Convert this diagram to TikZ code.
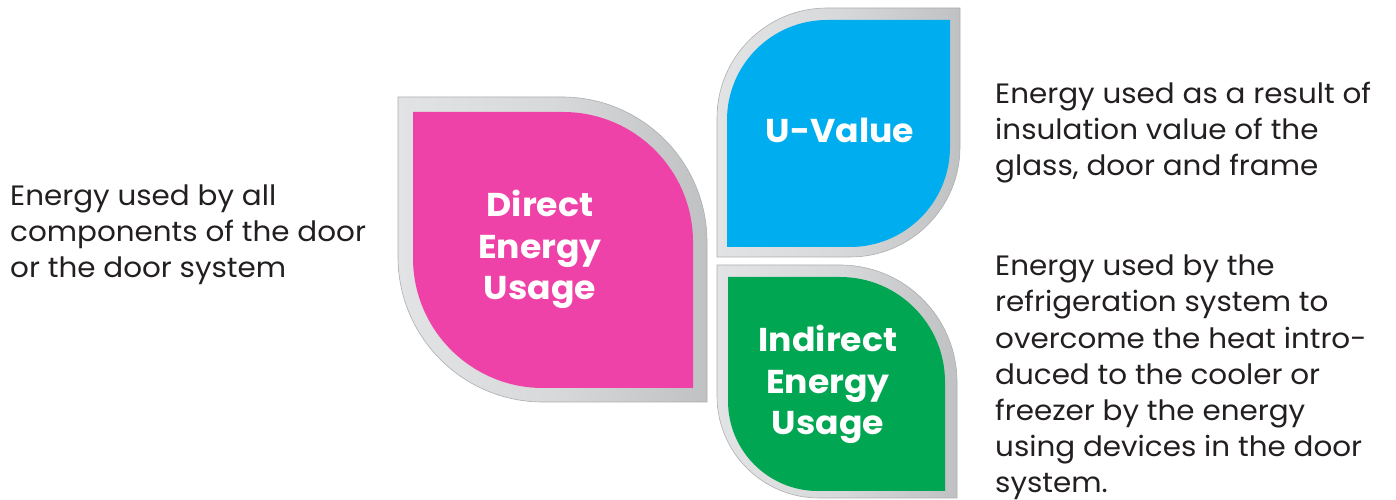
\documentclass[tikz,border=0pt]{standalone}
\usepackage{fontspec}
\setmainfont{Poppins}[FakeStretch=1.05]
\definecolor{pinkc}{RGB}{239,66,168}
\definecolor{bluec}{RGB}{0,174,239}
\definecolor{greenc}{RGB}{0,166,81}
\definecolor{txt}{RGB}{35,31,32}
\definecolor{silverA}{RGB}{226,227,228}
\definecolor{silverB}{RGB}{192,193,195}
\begin{document}
\begin{tikzpicture}[x=1pt,y=1pt,
  silver/.style={left color=silverA,right color=silverB,middle color=silverA!70!silverB,draw=silverB!90!black,line width=0.6pt},
  desc/.style={anchor=base west,align=left,inner sep=0pt,text=txt,font=\fontsize{28}{36.2}\selectfont},
  label/.style={anchor=base,align=center,inner sep=0pt,text=white,font=\bfseries\fontsize{33}{41.5}\selectfont}]
\useasboundingbox (0,0) rectangle (1396,500);
% Direct (pink): top-right and bottom-left rounded
\path[silver] (398,403) -- (707-145,403) arc[start angle=90,end angle=0,radius=145] -- (707,98) -- (398+145,98) arc[start angle=270,end angle=180,radius=145] -- cycle;
\fill[pinkc] (413,388) -- (693-130,388) arc[start angle=90,end angle=0,radius=130] -- (693,112) -- (413+130,112) arc[start angle=270,end angle=180,radius=130] -- cycle;
% U-Value (blue): top-left and bottom-right rounded
\path[silver] (717,243) -- (717,492-110) arc[start angle=180,end angle=90,radius=110] -- (960,492) -- (960,243+110) arc[start angle=0,end angle=-90,radius=110] -- cycle;
\fill[bluec] (727,253) -- (727,480-100) arc[start angle=180,end angle=90,radius=100] -- (950,480) -- (950,253+100) arc[start angle=0,end angle=-90,radius=100] -- cycle;
% Indirect (green): top-right and bottom-left rounded
\path[silver] (717,235) -- (957-117,235) arc[start angle=90,end angle=0,radius=117] -- (957,2) -- (717+102,2) arc[start angle=270,end angle=180,radius=102] -- cycle;
\fill[greenc] (728,223) -- (945-105,223) arc[start angle=90,end angle=0,radius=105] -- (945,9) -- (728+90,9) arc[start angle=270,end angle=180,radius=90] -- cycle;
% labels (anchored at the baseline of the last line)
\node[label] (direct) at (540,200) {Direct\\Energy\\Usage};
\node[label] (uvalue) at (840,357) {U-Value};
\node[label] (indirect) at (828,65) {Indirect\\Energy\\Usage};
% descriptions (anchored at the baseline of the last line)
\node[desc] (ldesc) at (10,222) {Energy used by all\\components of the door\\or the door system};
\node[desc] (rtdesc) at (995,324) {Energy used as a result of\\insulation value of the\\glass, door and frame};
\node[desc] (rbdesc) at (995,7) {Energy used by the\\refrigeration system to\\overcome the heat intro-\\duced to the cooler or\\freezer by the energy\\using devices in the door\\system.};
\end{tikzpicture}
\end{document}
